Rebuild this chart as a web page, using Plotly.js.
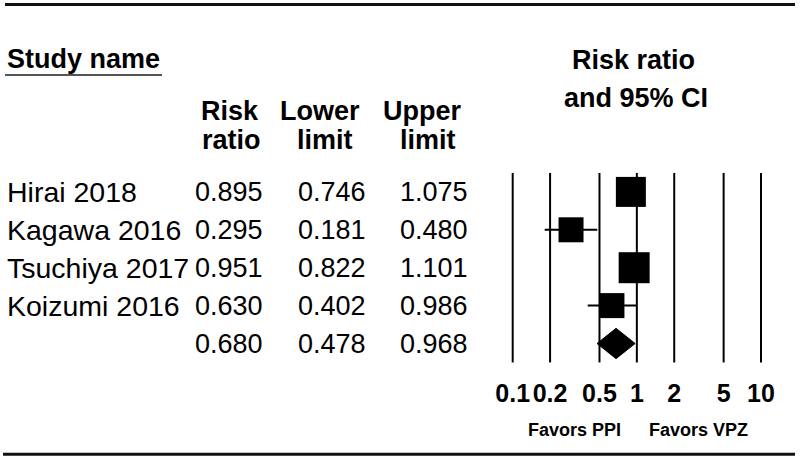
<!DOCTYPE html>
<html>
<head>
<meta charset="utf-8">
<script src="https://cdn.plot.ly/plotly-3.0.1.min.js"></script>
<style>html,body{margin:0;padding:0;background:#fff;}#chart{width:800px;height:460px;}</style>
</head>
<body>
<div id="chart"></div>
<script>
// ---- data ----
var studies = ["Hirai 2018", "Kagawa 2016", "Tsuchiya 2017", "Koizumi 2016"];
var riskRatio = [0.895, 0.295, 0.951, 0.630];
var lowerLimit = [0.746, 0.181, 0.822, 0.402];
var upperLimit = [1.075, 0.480, 1.101, 0.986];
var pooledRR = 0.680;
var pooledLower = 0.478;
var pooledUpper = 0.968;
var tickValues = [0.1, 0.2, 0.5, 1, 2, 5, 10];
var tickLabels = ["0.1", "0.2", "0.5", "1", "2", "5", "10"];

// ---- styles ----
var markerSizes = [30, 25, 31, 25];
var FONT = "Liberation Sans, Arial, sans-serif";
var W = 800, H = 460, MB = 94, PH = H - MB;
function px(x) { return x / W; }
function py(y) { return (PH - y) / PH; }

var rowIdx = studies.map(function (_, i) { return i; });
var pooledRow = studies.length;

// vertical reference lines
var vx = [], vy = [];
tickValues.forEach(function (v) { vx.push(v, v, null); vy.push(-0.5, pooledRow + 0.5, null); });

// whiskers
var wx = [], wy = [];
studies.forEach(function (_, i) { wx.push(lowerLimit[i], upperLimit[i], null); wy.push(i, i, null); });

var traces = [
  { type: "scatter", mode: "lines", x: vx, y: vy, line: { color: "#000", width: 2 }, hoverinfo: "skip" },
  { type: "scatter", mode: "lines", x: wx, y: wy, line: { color: "#000", width: 2 }, hoverinfo: "skip" },
  {
    type: "scatter", mode: "markers", x: riskRatio, y: rowIdx,
    marker: { symbol: "square", size: markerSizes, color: "#000", opacity: 1, line: { width: 0 } },
    hoverinfo: "skip"
  },
  {
    type: "scatter", mode: "lines", fill: "toself", fillcolor: "#000",
    x: [pooledLower, pooledRR, pooledUpper, pooledRR, pooledLower],
    y: [pooledRow, pooledRow - 0.4, pooledRow, pooledRow + 0.4, pooledRow],
    line: { color: "#000", width: 1 }, hoverinfo: "skip"
  }
];

var ann = [];
function txt(text, x, y, opts) {
  var a = { text: text, x: x, y: y, xref: "paper", yref: "paper", showarrow: false,
    xanchor: "center", yanchor: "middle", font: { family: FONT, size: 27, color: "#000" } };
  for (var k in opts) a[k] = opts[k];
  ann.push(a);
}
var bold27 = { family: FONT, size: 27, color: "#000", weight: "bold" };
txt("Study name", px(5), py(59), { xanchor: "left", font: bold27 });
txt("Risk ratio", px(633), py(60), { font: bold27 });
txt("and 95% CI", px(636), py(98), { font: bold27 });
txt("Risk", px(230), py(111), { font: bold27 });
txt("ratio", px(232), py(140), { font: bold27 });
txt("Lower", px(320), py(111), { font: bold27 });
txt("limit", px(325), py(140), { font: bold27 });
txt("Upper", px(422), py(111), { font: bold27 });
txt("limit", px(428), py(140), { font: bold27 });

function rowText(i, name, r, l, u) {
  var reg = { family: FONT, size: 27, color: "#000" };
  var nameFont = { family: FONT, size: 28.5, color: "#000" };
  if (name) ann.push({ text: name, x: px(5), y: i, xref: "paper", yref: "y", showarrow: false, xanchor: "left", yanchor: "middle", font: nameFont });
  [[r, 229], [l, 332], [u, 434]].forEach(function (c) {
    ann.push({ text: c[0].toFixed(3), x: px(c[1]), y: i, xref: "paper", yref: "y", showarrow: false, xanchor: "center", yanchor: "middle", font: reg });
  });
}
studies.forEach(function (s, i) { rowText(i, s, riskRatio[i], lowerLimit[i], upperLimit[i]); });
rowText(pooledRow, null, pooledRR, pooledLower, pooledUpper);

var bold18 = { family: FONT, size: 18, color: "#000", weight: "bold" };
txt("Favors PPI", px(574), py(430), { font: bold18 });
txt("Favors VPZ", px(698), py(430), { font: bold18 });

var layout = {
  width: W, height: H,
  margin: { l: 0, r: 0, t: 0, b: MB, pad: 0 },
  paper_bgcolor: "#fff", plot_bgcolor: "#fff",
  showlegend: false,
  xaxis: {
    type: "log", range: [-5.1297, 1.3141],
    tickmode: "array", tickvals: tickValues, ticktext: tickLabels,
    ticks: "", showgrid: false, zeroline: false, showline: false,
    tickfont: { family: FONT, size: 25, color: "#000", weight: "bold" },
    ticklabelstandoff: 10, fixedrange: true
  },
  yaxis: {
    range: [4.5937, -5.0633], showgrid: false, zeroline: false, showline: false,
    showticklabels: false, ticks: "", fixedrange: true
  },
  shapes: [
    { type: "line", xref: "paper", yref: "paper", x0: px(5), x1: px(795), y0: py(4.5), y1: py(4.5), line: { color: "#111", width: 3 } },
    { type: "line", xref: "paper", yref: "paper", x0: px(3), x1: px(795), y0: py(454.3), y1: py(454.3), line: { color: "#111", width: 3 } },
    { type: "line", xref: "paper", yref: "paper", x0: px(5), x1: px(162), y0: py(75), y1: py(75), line: { color: "#555", width: 2 } }
  ],
  annotations: ann
};

Plotly.newPlot("chart", traces, layout, { staticPlot: true, displayModeBar: false });
</script>
</body>
</html>
